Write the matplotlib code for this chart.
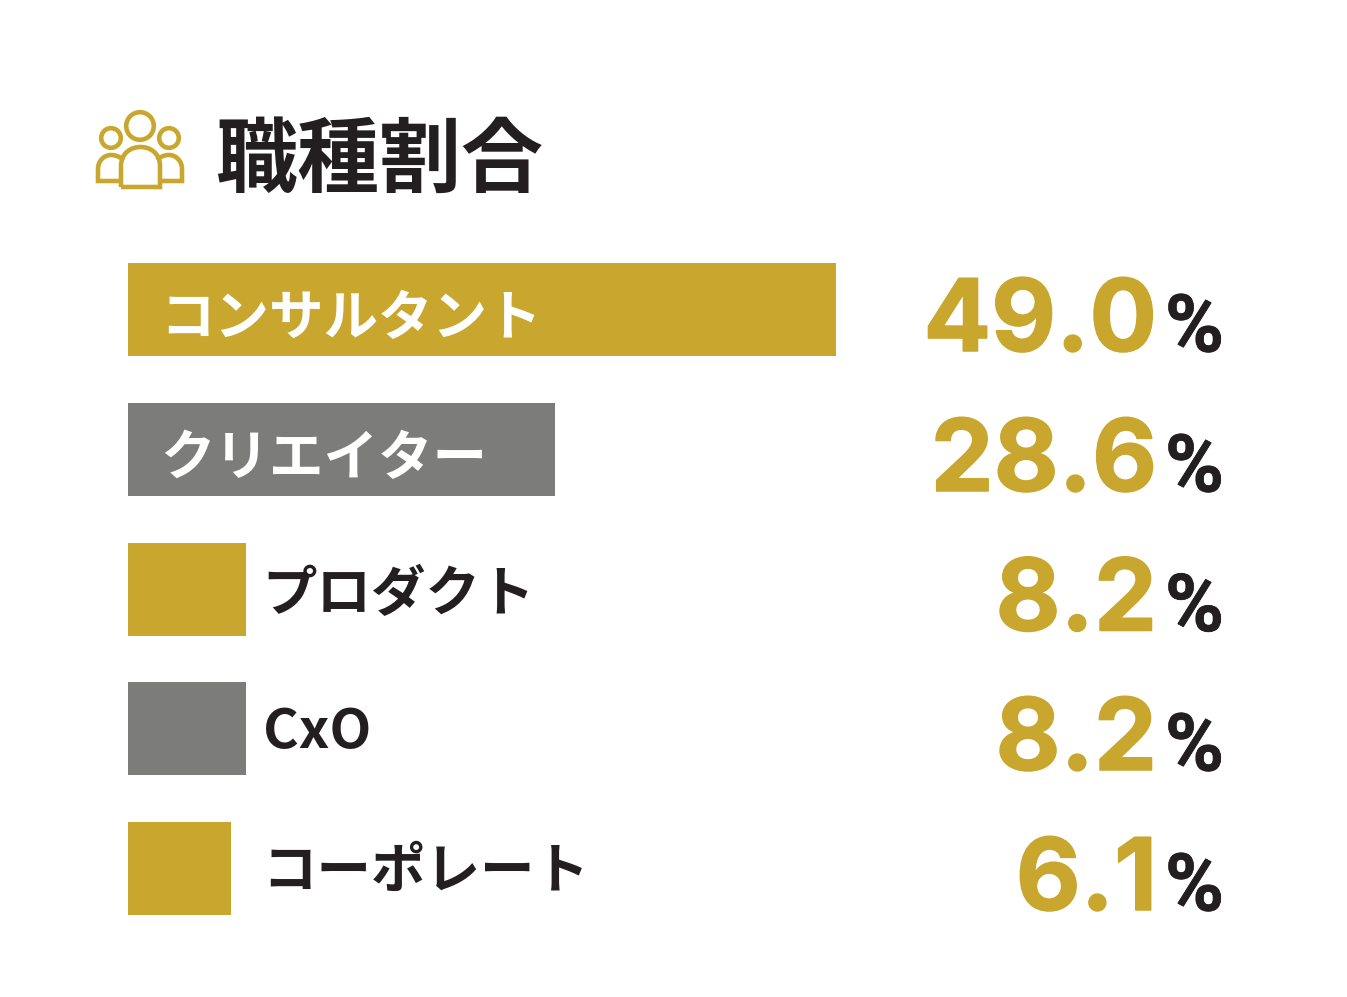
import matplotlib
matplotlib.use('Agg')
import matplotlib.pyplot as plt
import matplotlib.patheffects as pe
from matplotlib.patches import Circle, PathPatch
from matplotlib.path import Path

plt.rcParams['font.family'] = ['Noto Sans CJK JP', 'DejaVu Sans']

title = '職種割合'
categories = ['コンサルタント', 'クリエイター', 'プロダクト', 'CxO', 'コーポレート']
value_labels = ['49.0', '28.6', '8.2', '8.2', '6.1']
# bar lengths as drawn in the picture (they do not follow the labels exactly)
bar_lengths = [49.0, 29.55, 8.17, 8.17, 7.13]
GOLD = '#C9A72E'
GRAY = '#7C7C7A'
DARK = '#231F20'
colors = [GOLD, GRAY, GOLD, GRAY, GOLD]
inside = [True, True, False, False, False]

W, H = 1347, 997
fig = plt.figure(figsize=(W/100, H/100), dpi=100, facecolor='white')

x0, x1 = 128, 836
ax = fig.add_axes([x0/W, 0, (x1-x0)/W, 1], zorder=1)
ax.set_xlim(0, 49.0); ax.set_ylim(H, 0); ax.axis('off')
ys = [309.5, 449.5, 589, 728.5, 868.5]
ax.barh(ys, bar_lengths, height=93, left=0, color=colors, linewidth=0)

fg = fig.add_axes([0, 0, 1, 1], zorder=2)
fg.set_xlim(0, W); fg.set_ylim(H, 0); fg.axis('off'); fg.patch.set_alpha(0)

px = lambda s: s*72/100
label_x = [160, 160, 262, 263, 262]
label_dy = [26, 26, 22, 19, 19]
for y, c, lab, ins, lx, dy in zip(ys, categories, value_labels, inside, label_x, label_dy):
    fg.text(lx, y+dy, c, fontsize=px(54.5), fontweight='bold',
            color='white' if ins else DARK, va='baseline', ha='left')
    t = fg.text(1157, y+41.5, lab, family='Inter', fontsize=px(100), fontweight='bold', color=GOLD,
                va='baseline', ha='right')
    t.set_path_effects([pe.withStroke(linewidth=1.1, foreground=GOLD)])
    t = fg.text(1165, y+42, '%', family='Roboto', fontsize=px(80), fontweight='bold', color=DARK,
                va='baseline', ha='left')
    t.set_path_effects([pe.withStroke(linewidth=0.6, foreground=DARK)])

fg.text(215, 186, title, fontsize=px(82), fontweight='bold', color=DARK, va='baseline', ha='left')

# icon
lw = 3.3
for cx, cy, r in [(140, 126, 13.8), (111, 138, 9.8), (169, 138, 9.8)]:
    fg.add_patch(Circle((cx, cy), r, fc='none', ec=GOLD, lw=lw))
def body(verts, codes):
    fg.add_patch(PathPatch(Path(verts, codes), fc='none', ec=GOLD, lw=lw, joinstyle='miter'))
M, L, C = Path.MOVETO, Path.LINETO, Path.CURVE4
body([(121, 187), (121, 166), (121, 153), (131, 147), (140.5, 147), (150, 147), (160, 153), (160, 166), (160, 187), (121, 187)],
     [M, L, C, C, C, C, C, C, L, L])
body([(121, 181), (98, 181), (98, 169), (98, 161), (104, 155), (111, 155), (116, 155), (120, 157), (124, 160)],
     [M, L, L, C, C, C, C, C, C])
body([(160, 181), (182, 181), (182, 169), (182, 161), (176, 155), (169, 155), (164, 155), (160, 157), (157, 160)],
     [M, L, L, C, C, C, C, C, C])

fig.savefig('out.png', dpi=100, facecolor='white')
